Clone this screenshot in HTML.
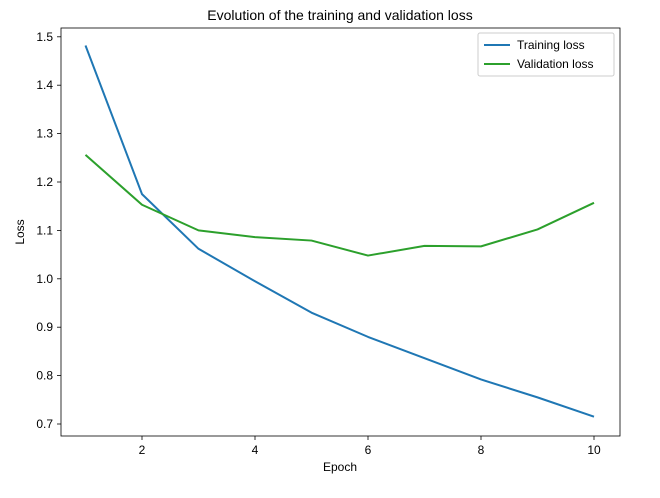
<!DOCTYPE html>
<html><head><meta charset="utf-8"><style>
body{margin:0;background:#fff;font-family:"Liberation Sans","DejaVu Sans",sans-serif;}
svg text{font-family:"Liberation Sans","DejaVu Sans",sans-serif;fill:#000}
</style></head><body>
<svg id="chart" width="660" height="493">
<text x="340" y="20" font-size="14" text-anchor="middle">Evolution of the training and validation loss</text>
<g id="plot"></g>
<rect x="61" y="28" width="559" height="408" fill="none" stroke="#000" stroke-width="0.8"/>
<text x="340" y="471" font-size="12" text-anchor="middle">Epoch</text>
<text transform="translate(24,232) rotate(-90)" font-size="12" text-anchor="middle">Loss</text>
<g>
<rect x="478" y="33" width="136" height="43" fill="#fff" stroke="#ccc" rx="2"/>
<line x1="484" y1="45" x2="510" y2="45" stroke="#1f77b4" stroke-width="2"/>
<text x="517" y="49" font-size="12">Training loss</text>
<line x1="484" y1="64" x2="510" y2="64" stroke="#2ca02c" stroke-width="2"/>
<text x="517" y="68" font-size="12">Validation loss</text>
</g>
</svg>
<script>
const epochs=[1,2,3,4,5,6,7,8,9,10];
const trainLoss=[1.482,1.175,1.062,0.995,0.930,0.880,0.836,0.792,0.755,0.715];
const valLoss=[1.256,1.153,1.100,1.086,1.079,1.048,1.068,1.067,1.102,1.157];
const xTicks=[2,4,6,8,10];
const yTicks=[0.7,0.8,0.9,1.0,1.1,1.2,1.3,1.4,1.5];
const NS="http://www.w3.org/2000/svg";
const xs=v=>85.5+(v-1)*56.5;
const ys=v=>424-(v-0.7)*484;
const g=document.getElementById('plot');
function mk(t,a){const e=document.createElementNS(NS,t);for(const k in a)e.setAttribute(k,a[k]);g.appendChild(e);return e;}
xTicks.forEach(t=>{
 const l=mk('line',{x1:xs(t),x2:xs(t),y1:436,y2:440,stroke:'#000','stroke-width':0.8});
 
 
 const tx=mk('text',{x:xs(t),y:454,'font-size':12,'text-anchor':'middle'});tx.textContent=t;
 
 
});
yTicks.forEach(t=>{
 const l=mk('line',{x1:57,x2:61,y1:ys(t),y2:ys(t),stroke:'#000','stroke-width':0.8});
 
 
 const tx=mk('text',{x:53,y:ys(t)+4,'font-size':12,'text-anchor':'end'});tx.textContent=t.toFixed(1);
 
 
});
function line(vals,c,n){
 const p=mk('polyline',{points:vals.map((v,i)=>xs(epochs[i])+','+ys(v)).join(' '),fill:'none',stroke:c,'stroke-width':2,'stroke-linejoin':'round'});
 
 
}
line(trainLoss,'#1f77b4','training-loss-line');
line(valLoss,'#2ca02c','validation-loss-line');
</script>
</body></html>
